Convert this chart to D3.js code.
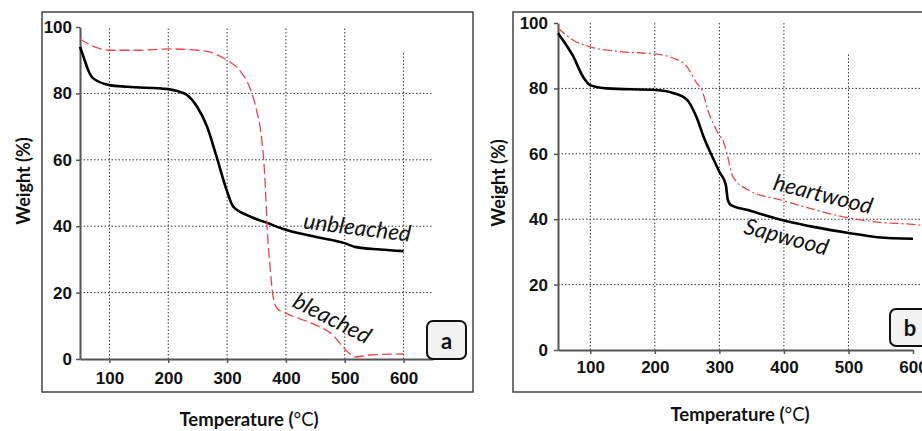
<!DOCTYPE html>
<html>
<head>
<meta charset="utf-8">
<script src="https://cdn.jsdelivr.net/npm/d3@7"></script>
<style>
  body { margin: 0; background: #fff; }
  svg { display: block; }
  .tick text { font-family: "Liberation Sans Narrow", "Arial Narrow", "Liberation Sans", sans-serif; font-weight: bold; font-size: 17px; fill: #111; }
</style>
</head>
<body>
<svg id="chart" width="922" height="431"></svg>
<script>
// panel a: unbleached / bleached
const tempUnbleached = [50, 56, 64, 72, 100, 130, 200, 215, 232, 249, 266, 282, 299, 310, 333, 368, 400, 450, 500, 519, 560, 600];
const wUnbleached = [94, 91, 87, 84.6, 82.5, 82, 81.3, 80.7, 79.5, 76, 70, 61, 51, 46, 43.4, 41, 38.9, 36.8, 34.9, 33.7, 33, 32.5];
const tempBleached = [50, 75, 100, 150, 200, 250, 270, 300, 321, 338, 350, 359, 363, 366, 368, 373, 378, 385, 400, 451, 480, 497, 507, 519, 540, 600];
const wBleached = [96.4, 94, 93, 93, 93.4, 93, 92.5, 90, 87, 82, 75, 66, 58, 48, 40, 28, 19, 15.3, 13.8, 10.2, 7.2, 3.6, 1.8, 0.6, 1.2, 1.5];

// panel b: sapwood / heartwood
const tempSapwood = [50, 73, 89, 100, 126, 202, 228, 250, 265, 276, 287, 300, 310, 313, 318, 344, 364, 400, 450, 500, 545, 600];
const wSapwood = [96.9, 90, 83.5, 81, 80, 79.5, 78.6, 76.5, 71, 65, 60, 54.5, 50.5, 46, 44.3, 42.8, 41.6, 39.6, 37.5, 35.8, 34.5, 34];
const tempHeartwood = [50, 73, 100, 150, 202, 228, 250, 265, 273, 282, 298, 307, 313, 321, 344, 395, 446, 500, 545, 600, 615];
const wHeartwood = [98.5, 94.8, 92.7, 91.2, 90.5, 89.3, 86.6, 81.6, 79.5, 73.4, 66.3, 63.3, 59, 53, 49, 45.9, 43, 40.4, 39.1, 38.4, 38.1];

const xTicks = [100, 200, 300, 400, 500, 600];
const yTicks = [0, 20, 40, 60, 80, 100];
const yGrid = [20, 40, 60, 80];

const svg = d3.select("#chart");
const red = "#e4464c";

function drawPanel(p) {
  const g = svg.append("g");
  const x = d3.scaleLinear().domain(p.xDomain).range(p.xRange);
  const y = d3.scaleLinear().domain([0, 100]).range(p.yRange);

  // frame
  g.append("rect")
    .attr("x", p.frame[0]).attr("y", p.frame[1])
    .attr("width", p.frame[2]).attr("height", p.frame[3])
    .attr("fill", "none").attr("stroke", "#444").attr("stroke-width", 1.5);

  // grid
  g.selectAll("line.hgrid").data(yGrid).join("line")
    .attr("class", "hgrid")
    .attr("x1", p.xRange[0]).attr("x2", p.gridRight)
    .attr("y1", d => y(d)).attr("y2", d => y(d))
    .attr("stroke", "#333").attr("stroke-width", 1).attr("stroke-dasharray", "1.5,2");
  g.selectAll("line.vgrid").data(p.vGrid).join("line")
    .attr("class", "vgrid")
    .attr("x1", d => x(d[0])).attr("x2", d => x(d[0]))
    .attr("y1", y(0)).attr("y2", d => y(d[1]))
    .attr("stroke", "#333").attr("stroke-width", 1).attr("stroke-dasharray", "1.5,2");

  // axes
  const ax = g.append("g")
    .attr("transform", `translate(0,${y(0)})`)
    .call(d3.axisBottom(x).tickValues(xTicks).tickSize(4).tickSizeOuter(0).tickPadding(p.xPad));
  const ay = g.append("g")
    .attr("transform", `translate(${p.xRange[0]},0)`)
    .call(d3.axisLeft(y).tickValues(yTicks).tickSize(4).tickSizeOuter(0).tickPadding(p.yPad));
  [ax, ay].forEach(a => {
    a.select(".domain").attr("stroke", "#555").attr("stroke-width", 2);
    a.selectAll(".tick line").attr("stroke", "#555").attr("stroke-width", 1.5);
  });

  // curves
  const line = d3.line().x(d => x(d[0])).y(d => y(d[1])).curve(d3.curveMonotoneX);
  p.series.forEach(s => {
    g.append("path")
      .datum(d3.zip(s.t, s.w))
      .attr("d", line)
      .attr("fill", "none")
      .attr("stroke", s.color)
      .attr("stroke-width", s.width)
      .attr("stroke-dasharray", s.dash)
      .attr("stroke-linejoin", "round");
  });

  // curve labels
  p.labels.forEach(l => {
    g.append("text")
      .attr("transform", `translate(${x(l.t)},${y(l.w)}) rotate(${l.rot})`)
      .attr("text-anchor", "middle")
      .attr("dominant-baseline", "middle")
      .style("font-family", "Lato, 'Open Sans', sans-serif")
      .style("font-style", "italic")
      .style("font-size", "22.5px")
      .attr("fill", "#111")
      .text(l.text);
  });

  // panel letter
  g.append("rect")
    .attr("x", p.box[0]).attr("y", p.box[1])
    .attr("width", p.box[2]).attr("height", p.box[3])
    .attr("rx", 6).attr("fill", "#f2f2f2")
    .attr("stroke", "#111").attr("stroke-width", 2);
  g.append("text")
    .attr("x", p.box[0] + p.box[2] / 2).attr("y", p.box[1] + p.box[3] / 2)
    .attr("text-anchor", "middle").attr("dominant-baseline", "central")
    .style("font-family", "Lato, sans-serif").style("font-weight", "bold").style("font-size", "22px")
    .attr("fill", "#111")
    .text(p.letter);

  // axis titles
  const xt = g.append("text")
    .attr("x", p.xTitle[0]).attr("y", p.xTitle[1])
    .attr("text-anchor", "middle")
    .style("font-family", "Lato, sans-serif").style("font-size", "18.5px").attr("fill", "#111");
  xt.append("tspan").style("font-weight", "bold").text("Temperature (");
  xt.append("tspan").style("font-weight", "normal").text("°C");
  xt.append("tspan").style("font-weight", "bold").text(")");

  g.append("text")
    .attr("transform", `translate(${p.yTitle[0]},${p.yTitle[1]}) rotate(-90)`)
    .attr("text-anchor", "middle").attr("dominant-baseline", "central")
    .style("font-family", "Lato, sans-serif").style("font-weight", "bold").style("font-size", "18px")
    .attr("fill", "#111")
    .text("Weight (%)");
}

drawPanel({
  xDomain: [50, 650], xRange: [80, 433], yRange: [359, 27],
  frame: [42, 12, 431, 380], gridRight: 433,
  vGrid: [[100, 100], [200, 100], [300, 100], [400, 100], [500, 100], [600, 92.5]],
  xPad: 9, yPad: 4,
  series: [
    { t: tempUnbleached, w: wUnbleached, color: "#000", width: 2.6, dash: null },
    { t: tempBleached, w: wBleached, color: red, width: 1.3, dash: "10,4" }
  ],
  labels: [
    { text: "unbleached", t: 521, w: 39, rot: 7 },
    { text: "bleached", t: 477, w: 11.7, rot: 27 }
  ],
  box: [427, 321, 39, 38], letter: "a",
  xTitle: [249, 426], yTitle: [23, 181]
});

drawPanel({
  xDomain: [50, 600], xRange: [558, 913], yRange: [350, 23],
  frame: [513, 12, 430, 380], gridRight: 922,
  vGrid: [[100, 100], [200, 100], [300, 100], [400, 100], [500, 91]],
  xPad: 7, yPad: 6,
  series: [
    { t: tempSapwood, w: wSapwood, color: "#000", width: 2.6, dash: null },
    { t: tempHeartwood, w: wHeartwood, color: red, width: 1.3, dash: "9,3,2,3" }
  ],
  labels: [
    { text: "heartwood", t: 460, w: 47, rot: 14 },
    { text: "Sapwood", t: 403, w: 34, rot: 15 }
  ],
  box: [890, 309, 40, 37], letter: "b",
  xTitle: [740, 421], yTitle: [498, 183]
});
</script>
</body>
</html>
